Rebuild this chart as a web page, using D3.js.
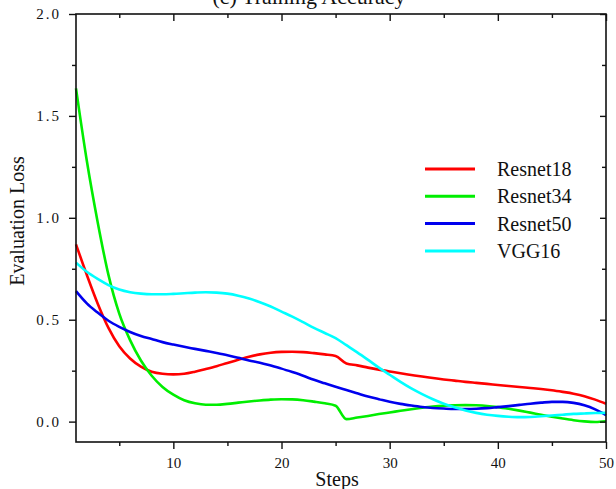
<!DOCTYPE html>
<html>
<head>
<meta charset="utf-8">
<script src="https://cdn.jsdelivr.net/npm/d3@7"></script>
<style>
  html, body { margin: 0; padding: 0; background: #fff; }
  svg { display: block; }
</style>
</head>
<body>
<svg id="chart" width="616" height="489"></svg>
<script>
const steps = d3.range(1, 51);
const seriesNames = ["Resnet18", "Resnet34", "Resnet50", "VGG16"];
const seriesColors = ["#ff0000", "#00ee00", "#0000ee", "#00ffff"];

const resnet18 = [0.87, 0.72, 0.58, 0.46, 0.37, 0.31, 0.27, 0.245, 0.235, 0.232,
  0.235, 0.245, 0.258, 0.272, 0.288, 0.303, 0.318, 0.33, 0.338, 0.342,
  0.343, 0.341, 0.336, 0.33, 0.322, 0.285, 0.276, 0.265, 0.255, 0.246,
  0.237, 0.229, 0.221, 0.214, 0.207, 0.201, 0.195, 0.19, 0.185, 0.18,
  0.175, 0.17, 0.165, 0.16, 0.154, 0.146, 0.137, 0.125, 0.108, 0.088];
const resnet34 = [1.635, 1.28, 0.98, 0.72, 0.53, 0.40, 0.30, 0.225, 0.17, 0.132,
  0.105, 0.09, 0.083, 0.083, 0.087, 0.093, 0.099, 0.104, 0.108, 0.11,
  0.109, 0.105, 0.098, 0.09, 0.078, 0.012, 0.02, 0.028, 0.037, 0.045,
  0.053, 0.061, 0.068, 0.074, 0.078, 0.08, 0.081, 0.08, 0.077, 0.071,
  0.063, 0.054, 0.044, 0.034, 0.024, 0.015, 0.007, 0.001, -0.002, 0.002];
const resnet50 = [0.64, 0.58, 0.535, 0.495, 0.465, 0.44, 0.42, 0.405, 0.39, 0.378,
  0.367, 0.357, 0.347, 0.337, 0.326, 0.313, 0.30, 0.289, 0.275, 0.26,
  0.243, 0.225, 0.205, 0.188, 0.171, 0.155, 0.139, 0.123, 0.11, 0.097,
  0.087, 0.079, 0.072, 0.067, 0.064, 0.062, 0.062, 0.063, 0.066, 0.071,
  0.076, 0.082, 0.088, 0.093, 0.097, 0.097, 0.092, 0.08, 0.06, 0.032];
const vgg16 = [0.78, 0.735, 0.70, 0.67, 0.648, 0.635, 0.628, 0.625, 0.625, 0.627,
  0.63, 0.633, 0.635, 0.633, 0.628, 0.618, 0.604, 0.586, 0.565, 0.54,
  0.515, 0.488, 0.46, 0.435, 0.41, 0.375, 0.34, 0.303, 0.265, 0.23,
  0.195, 0.163, 0.135, 0.11, 0.088, 0.07, 0.055, 0.043, 0.034, 0.028,
  0.024, 0.022, 0.023, 0.026, 0.03, 0.034, 0.038, 0.04, 0.042, 0.043];
const seriesValues = [resnet18, resnet34, resnet50, vgg16];

const xTickValues = [10, 20, 30, 40, 50];
const xMinorTicks = [5, 15, 25, 35, 45];
const yTickValues = [0, 0.5, 1.0, 1.5, 2.0];
const yMinorTicks = [0.25, 0.75, 1.25, 1.75];

const titleText = "(c) Training Accuracy";
const xLabel = "Steps";
const yLabel = "Evaluation Loss";

const SERIF = '"Liberation Serif", "Times New Roman", serif';
const svg = d3.select("#chart");
const mLeft = 76, mRight = 606, mTop = 14, mBottom = 442;

const x = d3.scaleLinear().domain([1, 50]).range([mLeft, mRight]);
const y = d3.scaleLinear().domain([-0.1, 2.0]).range([mBottom, mTop]);

// title (clipped at top like reference)
svg.append("text")
  .attr("x", 309).attr("y", 4).attr("text-anchor", "middle")
  .style("font-family", SERIF).style("font-size", "22px").attr("fill", "#111")
  .text(titleText);

// lines
const line = d3.line().x((d, i) => x(steps[i])).y(d => y(d)).curve(d3.curveMonotoneX);
const plotG = svg.append("g");
seriesValues.forEach((vals, k) => {
  plotG.append("path").datum(vals)
    .attr("d", line)
    .attr("fill", "none")
    .attr("stroke", seriesColors[k])
    .attr("stroke-width", 2.6)
    .attr("stroke-linejoin", "round");
});

// frame
const axisColor = "#111";
svg.append("rect").attr("x", mLeft).attr("y", mTop)
  .attr("width", mRight - mLeft).attr("height", mBottom - mTop)
  .attr("fill", "none").attr("stroke", axisColor).attr("stroke-width", 1.6);

function styleAxis(g) {
  g.select(".domain").remove();
  g.selectAll("line").attr("stroke", axisColor).attr("stroke-width", 1.4);
  g.selectAll("text").style("font-family", SERIF).style("font-size", "15px").attr("fill", "#111");
  return g;
}

// bottom axis (outward ticks)
styleAxis(svg.append("g").attr("transform", `translate(0,${mBottom})`)
  .call(d3.axisBottom(x).tickValues(xTickValues).tickSize(7).tickPadding(8).tickFormat(d3.format("d"))));
styleAxis(svg.append("g").attr("transform", `translate(0,${mBottom})`)
  .call(d3.axisBottom(x).tickValues(xMinorTicks).tickSize(4).tickFormat("")));

// top axis (inward ticks)
styleAxis(svg.append("g").attr("transform", `translate(0,${mTop})`)
  .call(d3.axisBottom(x).tickValues(xTickValues).tickSize(7).tickFormat("")));
styleAxis(svg.append("g").attr("transform", `translate(0,${mTop})`)
  .call(d3.axisBottom(x).tickValues(xMinorTicks).tickSize(4).tickFormat("")));

// left axis (outward ticks)
const gy = styleAxis(svg.append("g").attr("transform", `translate(${mLeft},0)`)
  .call(d3.axisLeft(y).tickValues(yTickValues).tickSize(7).tickPadding(8).tickFormat(d3.format(".1f"))));
gy.selectAll("text").style("letter-spacing", "2px");
styleAxis(svg.append("g").attr("transform", `translate(${mLeft},0)`)
  .call(d3.axisLeft(y).tickValues(yMinorTicks).tickSize(4).tickFormat("")));

// right axis (inward ticks)
styleAxis(svg.append("g").attr("transform", `translate(${mRight},0)`)
  .call(d3.axisLeft(y).tickValues(yTickValues).tickSize(6).tickFormat("")));
styleAxis(svg.append("g").attr("transform", `translate(${mRight},0)`)
  .call(d3.axisLeft(y).tickValues(yMinorTicks).tickSize(4).tickFormat("")));

// axis labels
svg.append("text")
  .attr("x", 337).attr("y", 486).attr("text-anchor", "middle")
  .style("font-family", SERIF).style("font-size", "20px").attr("fill", "#111")
  .text(xLabel);
svg.append("text")
  .attr("transform", "translate(24,221) rotate(-90)")
  .attr("text-anchor", "middle")
  .style("font-family", SERIF).style("font-size", "20px").attr("fill", "#111")
  .text(yLabel);

// legend
const legend = svg.append("g");
seriesNames.forEach((name, k) => {
  const ly = 169 + k * 27.3;
  legend.append("line").attr("x1", 425).attr("x2", 475).attr("y1", ly).attr("y2", ly)
    .attr("stroke", seriesColors[k]).attr("stroke-width", 3);
  legend.append("text")
    .attr("x", 497).attr("y", ly + 7)
    .style("font-family", SERIF).style("font-size", "20px").attr("fill", "#111")
    .text(name);
});
</script>
</body>
</html>
